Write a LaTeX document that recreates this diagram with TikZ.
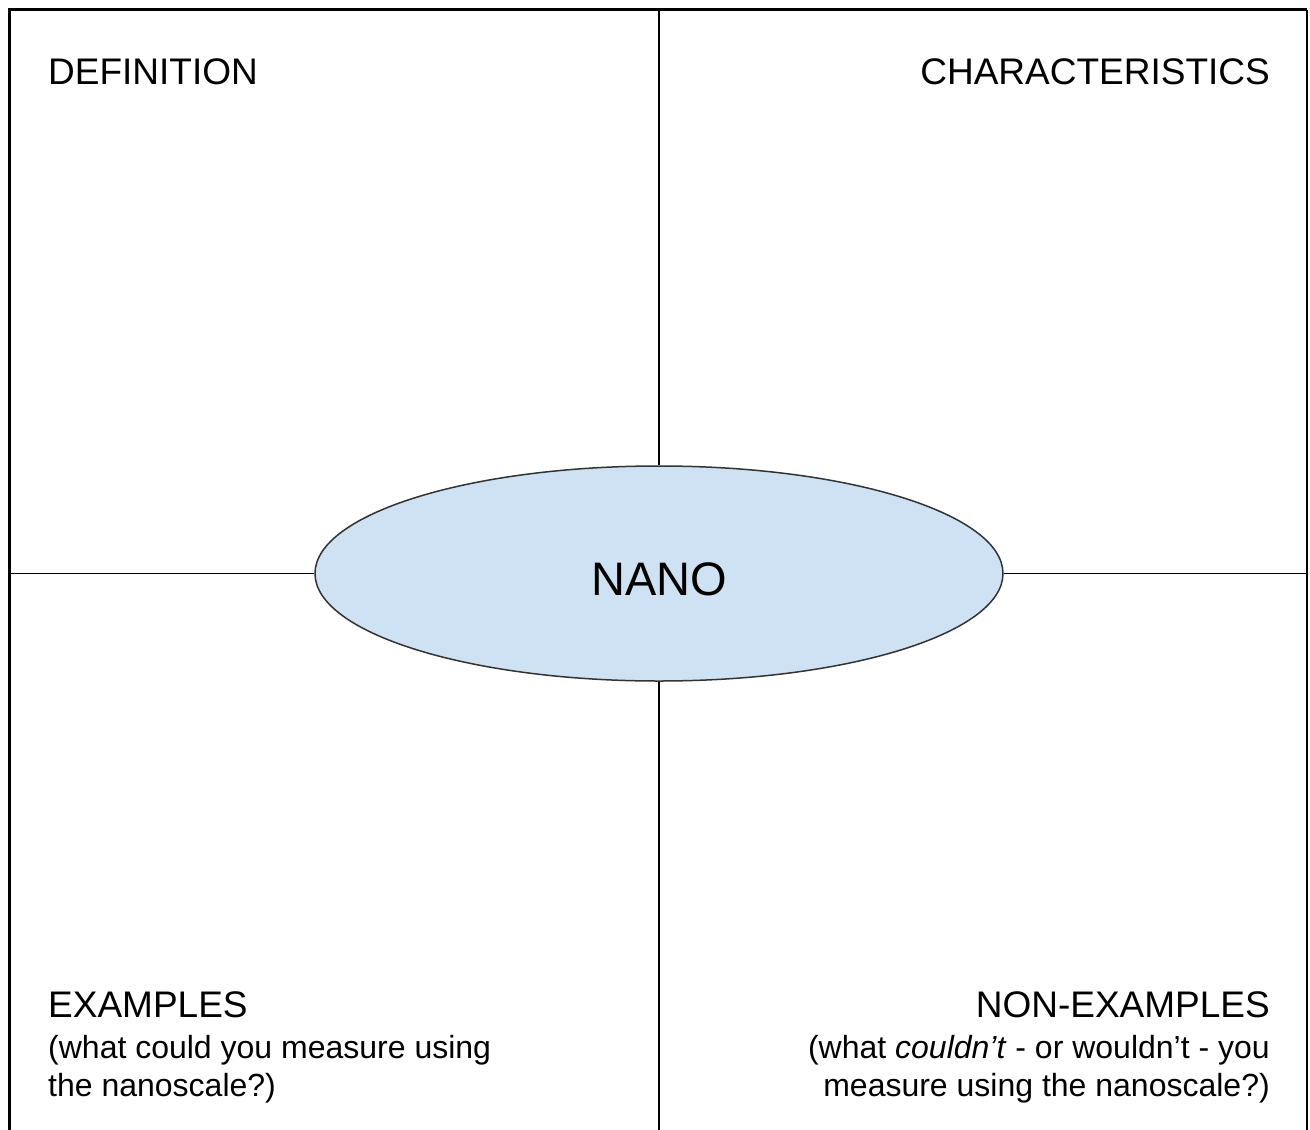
\documentclass[tikz,border=0pt]{standalone}
\usepackage{fontspec}
\setmainfont{Liberation Sans}
\usetikzlibrary{shapes.geometric}
\definecolor{nanofill}{HTML}{CFE2F3}
\definecolor{edgegray}{HTML}{333333}
\tikzset{
  head/.style={inner sep=0pt, font=\fontsize{37}{44}\selectfont},
  sub/.style={inner sep=0pt, font=\fontsize{32}{38}\selectfont},
  divider/.style={line width=1.6pt, draw=black},
  frame/.style={line width=3pt, draw=black},
  oval/.style={ellipse, draw=edgegray, line width=1.5pt, fill=nanofill,
    minimum width=688pt, minimum height=215pt, inner sep=0pt,
    text height=43pt, text depth=0pt,
    font=\fontsize{47}{56}\selectfont}
}
\begin{document}
\begin{tikzpicture}[x=1pt,y=-1pt]
\useasboundingbox (0,0) rectangle (1310,1130);
\clip (0,0) rectangle (1310,1130);
\fill[white] (0,0) rectangle (1310,1130);
% frame
\coordinate (tl) at (9.5,9.5);
\coordinate (tr) at (1307,9.5);
\coordinate (bl) at (9.5,1140);
\coordinate (br) at (1307,1140);
\draw[frame] (bl) -- (tl) -- (tr);
\draw[line width=2pt] (tr) -- (br);
% centre
\node[oval] (nano) at (659,573.5) {NANO};
\coordinate (vtop) at (659,9.5);
\coordinate (vbot) at (659,1140);
\coordinate (hleft) at (9.5,573.5);
\coordinate (hright) at (1307,573.5);
\draw[divider] (vtop) -- (nano.north);
\draw[divider] (nano.south) -- (vbot);
\draw[divider] (hleft) -- (nano.west);
\draw[divider] (nano.east) -- (hright);
% labels
\node[head, anchor=base west] (def) at (48,84) {DEFINITION};
\node[head, anchor=base east] (char) at (1270,84) {CHARACTERISTICS};
\node[head, anchor=base west] (ex) at (48,1017) {EXAMPLES};
\node[sub, anchor=base west] (ex1) at (48,1058) {(what could you measure using};
\node[sub, anchor=base west] (ex2) at (48,1096) {the nanoscale?)};
\node[head, anchor=base east] (nex) at (1270,1017) {NON-EXAMPLES};
\node[sub, anchor=base east] (nex1) at (1270,1058) {(what \textit{couldn’t} - or wouldn’t - you};
\node[sub, anchor=base east] (nex2) at (1270,1096) {measure using the nanoscale?)};
\end{tikzpicture}
\end{document}
